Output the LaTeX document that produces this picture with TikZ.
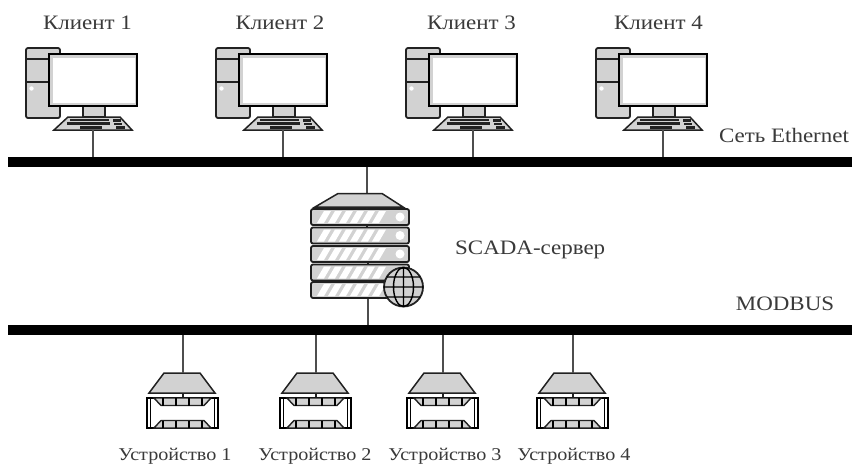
\documentclass[tikz,border=0pt]{standalone}
\usepackage{fontspec}
\setmainfont[FakeStretch=1.12]{Liberation Serif}
\definecolor{txt}{HTML}{3A3A3A}
\definecolor{fillg}{HTML}{D2D2D2}
\definecolor{ln}{HTML}{222222}
\tikzset{
  bus/.style={fill=black,draw=none,inner sep=0,minimum width=844pt,minimum height=10.5pt},
  wire/.style={draw=ln!80,line width=1.7pt},
  part/.style={draw=ln,line width=1.8pt,fill=fillg},
  lab/.style={text=txt,font=\fontsize{20.5}{21}\selectfont,inner sep=0},
  labs/.style={text=txt,font=\fontsize{18}{18}\selectfont,inner sep=0},
  pc/.pic={
    \draw[part,rounded corners=2pt] (26,48) rectangle (60,118);
    \draw[draw=ln,line width=1.8pt] (26,59) -- (50,59) (26,82) -- (50,82);
    \fill[white] (31.5,88.5) circle (2.2pt);
    \draw[part] (83,105) rectangle (105,117);
    \draw[draw=black,line width=2.4pt,fill=fillg] (49,54) rectangle (137,106);
    \fill[white] (52.5,58) rectangle (135,103);
    \draw[part,line width=1.5pt] (68,117) -- (120,117) -- (132,130) -- (54,130) -- cycle;
    \draw[ln,line width=2.4pt] (67,123.5) -- (110,123.5) (113,120.5) -- (121,120.5) (114,124) -- (122,124) (116,127.5) -- (125,127.5) (80,127.5) -- (102,127.5) (70,120) -- (109,120);
  },
  srvbar/.pic={
    \draw[part,draw=ln!90!black,rounded corners=2pt] (311,0) rectangle (409,16);
    \foreach \i in {0,...,5}{
      \fill[white] ({317+11*\i},14) -- ({324+11*\i},14) -- ({331+11*\i},2) -- ({324+11*\i},2) -- cycle;
    }
    \fill[white] (400,8) ellipse (4.5pt and 4.5pt);
  },
  device/.pic={
    \draw[part,line width=1.5pt] (164,373) -- (200,373) -- (215,393) -- (149,393) -- cycle;
    \draw[draw=ln,line width=1.4pt] (183,393) -- (183,398);
    \draw[draw=black,line width=2.2pt,fill=white] (147,398) rectangle (218,428);
    \draw[draw=black,line width=1.4pt] (150.5,398) -- (150.5,428) (214.5,398) -- (214.5,428);
    \draw[draw=ln,line width=1.4pt,fill=fillg] (154,398) -- (211,398) -- (204,405.5) -- (161,405.5) -- cycle;
    \draw[draw=ln,line width=1.4pt,fill=fillg] (154,428) -- (211,428) -- (204,420.5) -- (161,420.5) -- cycle;
    \foreach \x in {163,176,189,202}{
      \draw[black,line width=2.6pt] (\x,398) -- (\x,405.5) (\x,420.5) -- (\x,428);
    }
  }
}
\begin{document}
\begin{tikzpicture}[x=1pt,y=-1pt]
\useasboundingbox (0,0) rectangle (854,466);
\fill[white] (0,0) rectangle (854,466);
\node[bus,anchor=north west] (ethernet) at (8,156.5) {};
\node[bus,anchor=north west] (modbus) at (8,324.5) {};
% clients
\foreach \n/\dx in {1/0,2/190,3/380,4/570}{
  \pic at (\dx,0) {pc};
  \coordinate (k\n) at ({93+\dx},130);
  \draw[wire] (k\n) -- (k\n |- ethernet.north);
}
\node[lab] (lc1) at (87.5,22.5) {Клиент 1};
\node[lab] (lc2) at (280,22.5) {Клиент 2};
\node[lab] (lc3) at (471.5,22.5) {Клиент 3};
\node[lab] (lc4) at (658.5,22.5) {Клиент 4};
\node[lab] (leth) at (784,135) {Сеть Ethernet};
% server
\coordinate (srvtop) at (367,193.5);
\coordinate (srvbot) at (368,298);
\draw[wire] (srvtop) -- (srvtop |- ethernet.south);
\draw[wire] (srvbot) -- (srvbot |- modbus.north);
\draw[part,line width=1.5pt] (338,193.5) -- (382,193.5) -- (403,207) -- (315,207) -- cycle;
\foreach \y in {209,227.5,246,264.5,282}{
  \pic at (0,\y) {srvbar};
}
\draw[ln,line width=1.4pt] (367,207) -- (367,209) (367,225) -- (367,227.5) (368,262) -- (368,264.5) (368,280.5) -- (368,282);
\begin{scope}[shift={(403.5,287)}]
  \draw[draw=ln,line width=1.8pt,fill=fillg] (0,0) circle (19.5pt);
  \draw[draw=black,line width=1.4pt] (0,0) ellipse (10pt and 19.5pt) (0,-19.5) -- (0,19.5) (-19.5,0) -- (19.5,0) (-16.5,-10) -- (16.5,-10) (-16.5,10) -- (16.5,10);
\end{scope}
\node[lab,anchor=west] (lsrv) at (455,250) {SCADA-сервер};
\node[lab] (lmod) at (785,304) {MODBUS};
% devices
\foreach \n/\dx in {1/0,2/133,3/260,4/390}{
  \pic at (\dx,0) {device};
  \coordinate (d\n) at ({183+\dx},373);
  \draw[wire] (d\n) -- (d\n |- modbus.south);
}
\node[labs] (ld1) at (175,456) {Устройство 1};
\node[labs] (ld2) at (315,456) {Устройство 2};
\node[labs] (ld3) at (445,456) {Устройство 3};
\node[labs] (ld4) at (574,456) {Устройство 4};
\end{tikzpicture}
\end{document}
